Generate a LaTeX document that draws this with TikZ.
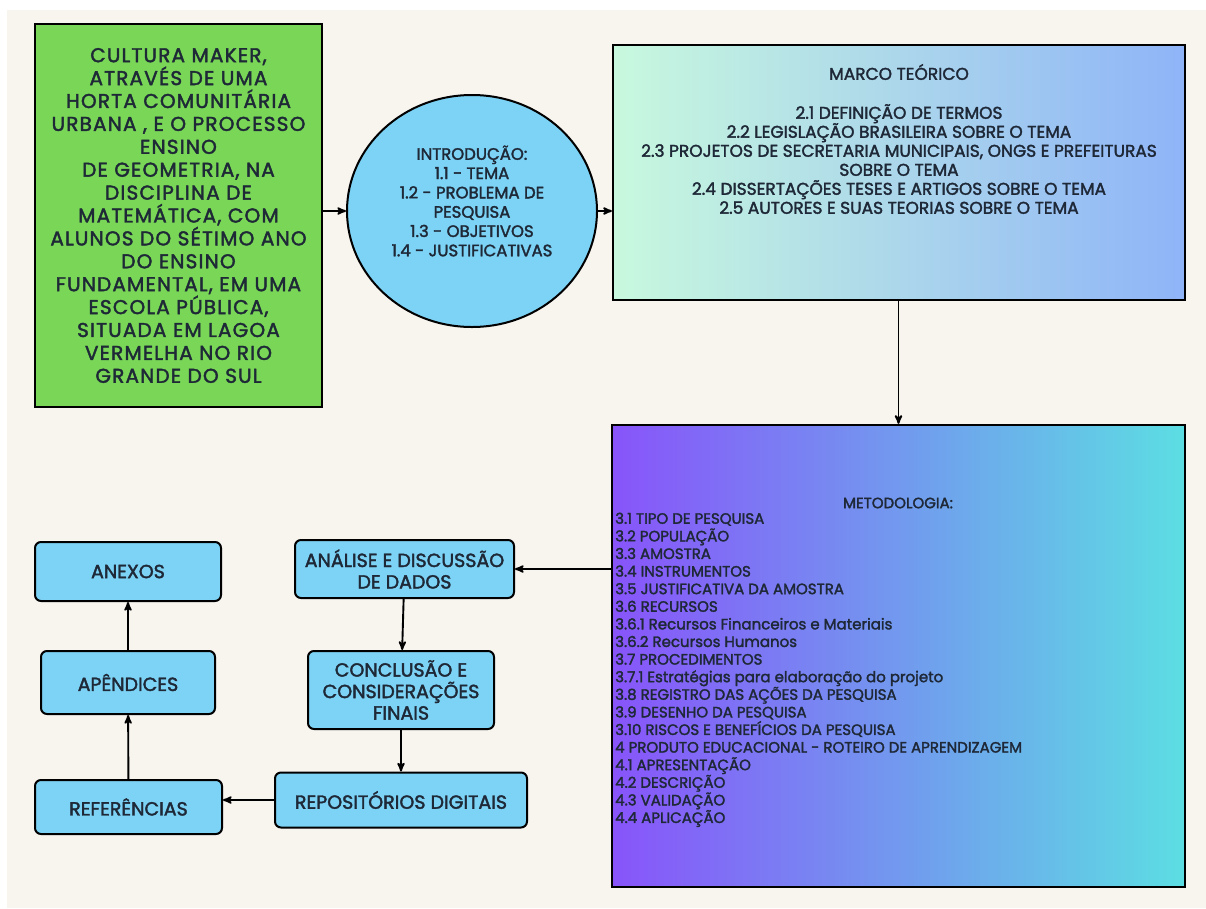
\documentclass[tikz,border=0pt]{standalone}
\usepackage{fontspec}
\setmainfont{Poppins}[FakeBold=2]
\newfontfamily\widefont{Poppins}[FakeBold=2, LetterSpace=6]
\usepackage{tikz}
\usetikzlibrary{arrows}
\usetikzlibrary{shapes.geometric}
\definecolor{cream}{RGB}{248, 244, 238}
\definecolor{leafgreen}{RGB}{121, 214, 86}
\definecolor{skyblue}{RGB}{125, 211, 245}
\definecolor{mint}{RGB}{200, 249, 222}
\definecolor{cornflower}{RGB}{143, 180, 248}
\definecolor{grape}{RGB}{136, 84, 250}
\definecolor{aqua}{RGB}{92, 222, 227}
\definecolor{ink}{RGB}{30, 40, 55}

\tikzset{
    topicbox/.style={draw=black, line width=2pt, rounded corners=6pt, fill=skyblue,
        text=ink, align=center, inner sep=0pt, font=\fontsize{19}{21.5}\selectfont},
    bigbox/.style={draw=black, line width=2.2pt, inner sep=0pt},
    flowarrow/.style={->, >=stealth', line width=1.9pt},
}

\begin{document}
\begin{tikzpicture}[x=1pt, y=-1pt]
    % page
    \useasboundingbox (0,0) rectangle (1206,908);
    \fill[white] (0,0) rectangle (1206,908);
    \fill[cream] (7,10) rectangle (1206,908);

    % theme
    \node[bigbox, fill=leafgreen, minimum width=287pt, minimum height=383pt,
          text=ink, align=center, font=\widefont\fontsize{20}{22.9}\selectfont] (theme) at (178.5,215.5)
        {CULTURA MAKER,\\ATRAVÉS DE UMA\\HORTA COMUNITÁRIA\\URBANA , E O PROCESSO\\ENSINO\\
         DE GEOMETRIA, NA\\DISCIPLINA DE\\MATEMÁTICA, COM\\ALUNOS DO SÉTIMO ANO\\DO ENSINO\\
         FUNDAMENTAL, EM UMA\\ESCOLA PÚBLICA,\\SITUADA EM LAGOA\\VERMELHA NO RIO\\GRANDE DO SUL};

    % introduction
    \node[ellipse, draw=black, line width=2pt, fill=skyblue, minimum width=250pt, minimum height=232pt,
          inner sep=0pt] (intro) at (472,211) {};
    \node[text=ink, align=center, inner sep=0pt, font=\fontsize{16.5}{19.3}\selectfont] (introtext) at (472,201)
        {INTRODUÇÃO:\\1.1 - TEMA\\1.2 - PROBLEMA DE\\PESQUISA\\1.3 - OBJETIVOS\\1.4 - JUSTIFICATIVAS};

    % theoretical framework
    \node[bigbox, left color=mint, right color=cornflower, minimum width=572pt, minimum height=255pt]
        (marco) at (899,172.5) {};
    \node[text=ink, inner sep=0pt, font=\fontsize{17}{19}\selectfont] (marcotitle) at (899,72) {MARCO TEÓRICO};
    \node[text=ink, align=center, inner sep=0pt, anchor=north, font=\fontsize{17}{19}\selectfont]
        (marcotext) at (899,104)
        {2.1 DEFINIÇÃO DE TERMOS\\2.2 LEGISLAÇÃO BRASILEIRA SOBRE O TEMA\\
         2.3 PROJETOS DE SECRETARIA MUNICIPAIS, ONGS E PREFEITURAS\\SOBRE O TEMA\\
         2.4 DISSERTAÇÕES TESES E ARTIGOS SOBRE O TEMA\\2.5 AUTORES E SUAS TEORIAS SOBRE O TEMA};

    % methodology
    \node[bigbox, left color=grape, right color=aqua, minimum width=573pt, minimum height=462pt]
        (metod) at (898.5,656) {};
    \node[text=ink, inner sep=0pt, font=\fontsize{15}{17.6}\selectfont] (metodtitle) at (898,503) {METODOLOGIA:};
    \node[text=ink, align=left, inner sep=0pt, anchor=north west, font=\fontsize{15}{17.6}\selectfont]
        (metodtext) at (615,512.5)
        {3.1 TIPO DE PESQUISA\\3.2 POPULAÇÃO\\3.3 AMOSTRA\\3.4 INSTRUMENTOS\\
         3.5 JUSTIFICATIVA DA AMOSTRA\\3.6 RECURSOS\\3.6.1 Recursos Financeiros e Materiais\\
         3.6.2 Recursos Humanos\\3.7 PROCEDIMENTOS\\3.7.1 Estratégias para elaboração do projeto\\
         3.8 REGISTRO DAS AÇÕES DA PESQUISA\\3.9 DESENHO DA PESQUISA\\
         3.10 RISCOS E BENEFÍCIOS DA PESQUISA\\4 PRODUTO EDUCACIONAL - ROTEIRO DE APRENDIZAGEM\\
         4.1 APRESENTAÇÃO\\4.2 DESCRIÇÃO\\4.3 VALIDAÇÃO\\4.4 APLICAÇÃO};

    % final chapters
    \node[topicbox, minimum width=219pt, minimum height=58pt] (analise) at (404.5,569) {ANÁLISE E DISCUSSÃO\\DE DADOS};
    \node[topicbox, minimum width=186pt, minimum height=78pt] (conclusao) at (401,690) {CONCLUSÃO E\\CONSIDERAÇÕES\\FINAIS};
    \node[topicbox, minimum width=252pt, minimum height=55pt] (repos) at (401,800) {REPOSITÓRIOS DIGITAIS};
    \node[topicbox, minimum width=187pt, minimum height=54pt] (refs) at (128.5,807) {REFERÊNCIAS};
    \node[topicbox, minimum width=174pt, minimum height=63pt] (apend) at (128,682.5) {APÊNDICES};
    \node[topicbox, minimum width=186pt, minimum height=59pt] (anexos) at (128,571.5) {ANEXOS};

    % connectors
    \draw[flowarrow] (intro.west -| theme.east) -- (intro.west);
    \draw[flowarrow] (intro.east) -- (intro.east -| marco.west);
    \draw[flowarrow] (marco.south -| metod.north) -- (metod.north);
    \draw[flowarrow] (analise.east -| metod.west) -- (analise.east);
    \draw[flowarrow] (analise) -- (conclusao);
    \draw[flowarrow] (conclusao) -- (repos);
    \draw[flowarrow] (repos.west) -- (repos.west -| refs.east);
    \draw[flowarrow] (refs) -- (apend);
    \draw[flowarrow] (apend) -- (anexos);
\end{tikzpicture}
\end{document}
